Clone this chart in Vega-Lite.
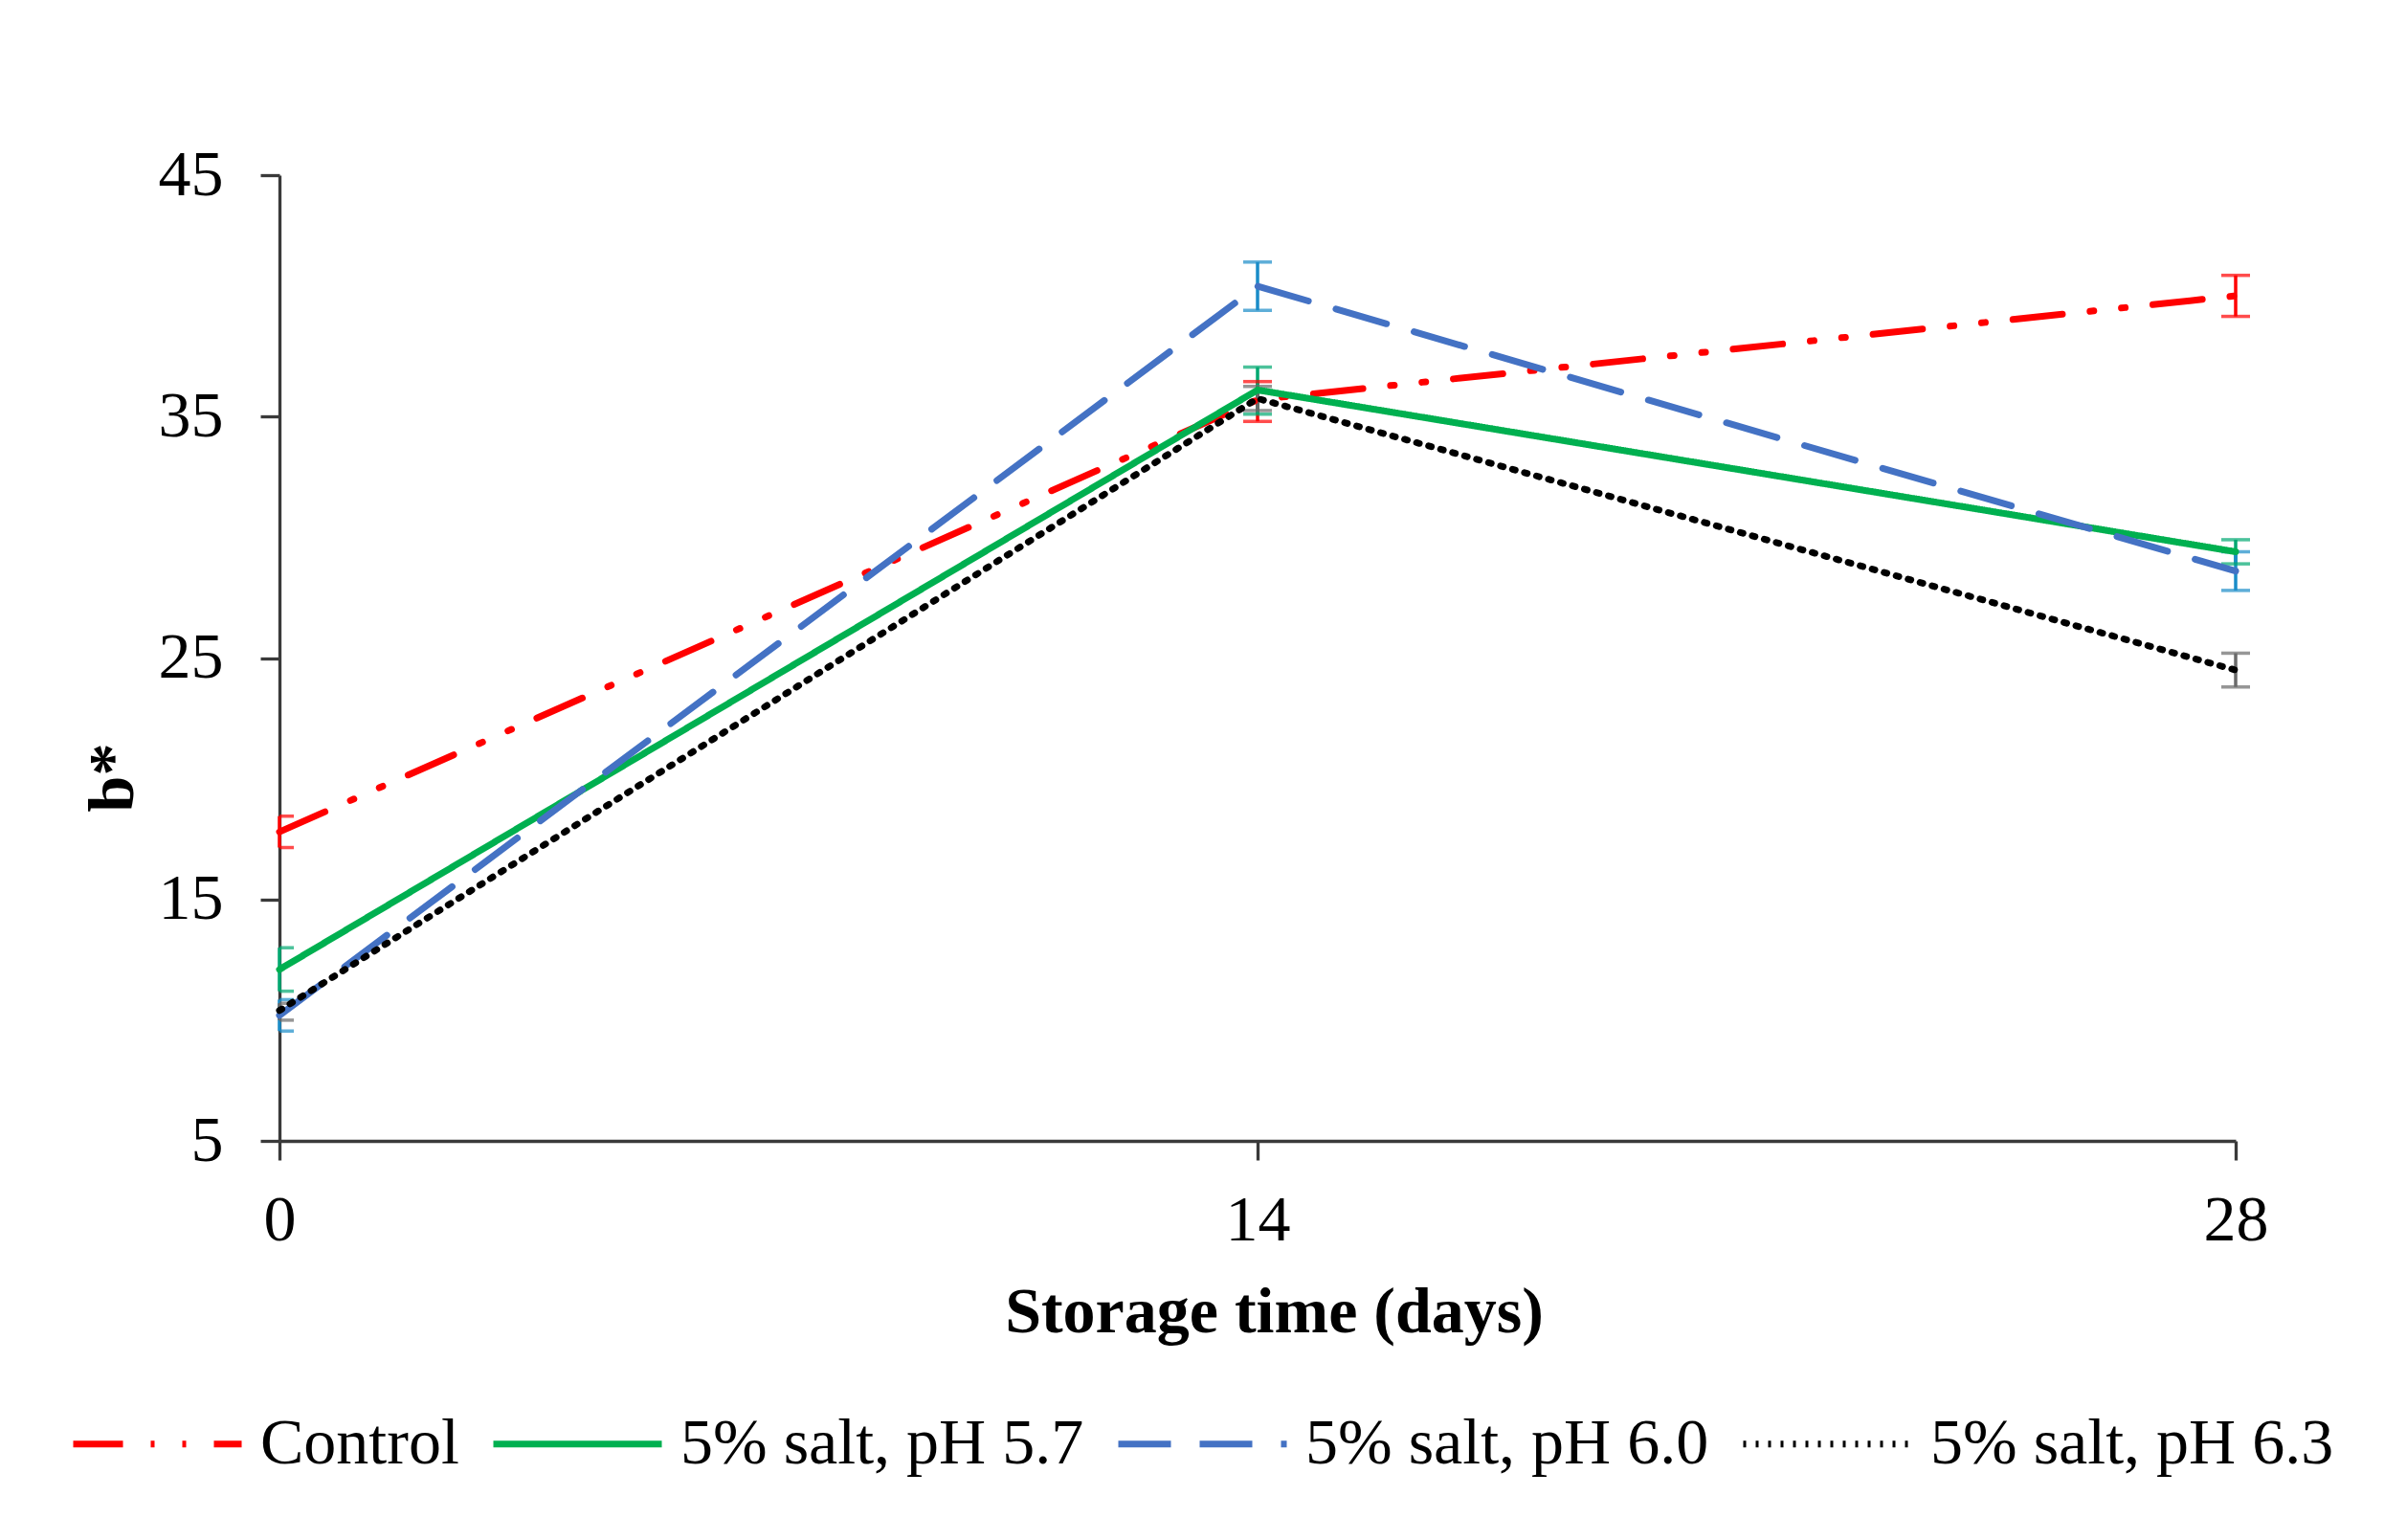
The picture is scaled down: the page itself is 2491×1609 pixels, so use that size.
{
  "$schema": "https://vega.github.io/schema/vega-lite/v6.json",
  "width": 2044,
  "height": 1009,
  "autosize": {"type": "none"},
  "padding": {"left": 292, "top": 183, "right": 155, "bottom": 417},
  "background": "white",
  "config": {
    "view": {"stroke": null},
    "font": "Liberation Serif",
    "axis": {
      "grid": false,
      "domainColor": "#3a3a3a",
      "domainWidth": 3.3,
      "tickColor": "#3a3a3a",
      "tickWidth": 3.3,
      "tickSize": 20,
      "labelFont": "Liberation Serif",
      "labelFontSize": 68,
      "labelColor": "black",
      "titleFont": "Liberation Serif",
      "titleFontSize": 68,
      "titleFontWeight": "bold",
      "titleColor": "black"
    }
  },
  "data": {
    "values": [
      {"series": "Control", "day": 0, "value": 17.8, "lo": 17.15, "hi": 18.45},
      {"series": "Control", "day": 14, "value": 35.7, "lo": 34.8, "hi": 36.45},
      {"series": "Control", "day": 28, "value": 40.0, "lo": 39.15, "hi": 40.85},
      {"series": "5% salt, pH 5.7", "day": 0, "value": 12.1, "lo": 11.2, "hi": 13.0},
      {"series": "5% salt, pH 5.7", "day": 14, "value": 36.1, "lo": 35.1, "hi": 37.05},
      {"series": "5% salt, pH 5.7", "day": 28, "value": 29.4, "lo": 28.9, "hi": 29.9},
      {"series": "5% salt, pH 6.0", "day": 0, "value": 10.2, "lo": 9.55, "hi": 10.85},
      {"series": "5% salt, pH 6.0", "day": 14, "value": 40.4, "lo": 39.4, "hi": 41.4},
      {"series": "5% salt, pH 6.0", "day": 28, "value": 28.6, "lo": 27.8, "hi": 29.4},
      {"series": "5% salt, pH 6.3", "day": 0, "value": 10.4, "lo": 10.0, "hi": 10.7},
      {"series": "5% salt, pH 6.3", "day": 14, "value": 35.75, "lo": 35.25, "hi": 36.25},
      {"series": "5% salt, pH 6.3", "day": 28, "value": 24.5, "lo": 23.8, "hi": 25.2}
    ]
  },
  "encoding": {
    "x": {
      "field": "day",
      "type": "quantitative",
      "scale": {"domain": [0, 28], "nice": false, "zero": false},
      "axis": {"values": [0, 14, 28], "title": "Storage time (days)", "labelBaseline": "alphabetic", "labelPadding": 83, "labelFlush": false, "titleX": 1039, "titleY": 199, "titleBaseline": "alphabetic"}
    }
  },
  "layer": [
    {
      "mark": {"type": "rule", "strokeWidth": 3.5},
      "encoding": {
        "y": {"field": "lo", "type": "quantitative", "scale": {"domain": [5, 45], "nice": false, "zero": false}, "axis": {"values": [5, 15, 25, 35, 45], "title": "b*", "labelPadding": 39, "titleX": -154, "titleY": 629, "titleBaseline": "alphabetic", "titleAngle": -90}},
        "y2": {"field": "hi"},
        "stroke": {
          "field": "series", "type": "nominal",
          "scale": {"range": ["#00A870", "#1A8CC8", "#6A6A6A", "#FF0000"]},
          "legend": null
        }
      }
    },
    {
      "transform": [{"filter": "datum.day == 0"}],
      "mark": {"type": "tick", "orient": "horizontal", "size": 30, "thickness": 3.5, "clip": true},
      "encoding": {
        "y": {"field": "lo", "type": "quantitative"},
        "fill": {
          "field": "series", "type": "nominal",
          "scale": {"range": ["#00A870", "#1A8CC8", "#6A6A6A", "#FF0000"]},
          "legend": null
        }
      }
    },
    {
      "transform": [{"filter": "datum.day == 0"}],
      "mark": {"type": "tick", "orient": "horizontal", "size": 30, "thickness": 3.5, "clip": true},
      "encoding": {
        "y": {"field": "hi", "type": "quantitative"},
        "fill": {"field": "series", "type": "nominal", "legend": null}
      }
    },
    {
      "transform": [{"filter": "datum.day > 0"}],
      "mark": {"type": "tick", "orient": "horizontal", "size": 30, "thickness": 3.5},
      "encoding": {
        "y": {"field": "lo", "type": "quantitative"},
        "fill": {"field": "series", "type": "nominal", "legend": null}
      }
    },
    {
      "transform": [{"filter": "datum.day > 0"}],
      "mark": {"type": "tick", "orient": "horizontal", "size": 30, "thickness": 3.5},
      "encoding": {
        "y": {"field": "hi", "type": "quantitative"},
        "fill": {"field": "series", "type": "nominal", "legend": null}
      }
    },
    {
      "mark": {"type": "line", "strokeWidth": 7, "strokeCap": "round"},
      "encoding": {
        "y": {"field": "value", "type": "quantitative"},
        "color": {
          "field": "series", "type": "nominal",
          "scale": {"domain": ["Control", "5% salt, pH 5.7", "5% salt, pH 6.0", "5% salt, pH 6.3"], "range": ["#FF0000", "#00B050", "#4472C4", "#000000"]},
          "legend": {"orient": "none", "legendX": -219, "legendY": 1234, "direction": "horizontal", "columns": 4, "title": null, "symbolType": "stroke", "symbolSize": 30976, "symbolStrokeWidth": 7, "labelFontSize": 68, "labelFont": "Liberation Serif", "labelColor": "black", "labelLimit": 3000, "columnPadding": 21, "labelOffset": 16}
        },
        "strokeDash": {
          "field": "series", "type": "nominal",
          "scale": {"domain": ["Control", "5% salt, pH 5.7", "5% salt, pH 6.0", "5% salt, pH 6.3"], "range": [[52, 29, 4, 29, 4, 29], [1, 0], [55, 30], [3, 10]]},
          "legend": {"orient": "none", "legendX": -219, "legendY": 1234, "direction": "horizontal", "columns": 4, "title": null, "symbolType": "stroke", "symbolSize": 30976, "symbolStrokeWidth": 7, "labelFontSize": 68, "labelFont": "Liberation Serif", "labelColor": "black", "labelLimit": 3000, "columnPadding": 21, "labelOffset": 16}
        }
      }
    }
  ]
}
